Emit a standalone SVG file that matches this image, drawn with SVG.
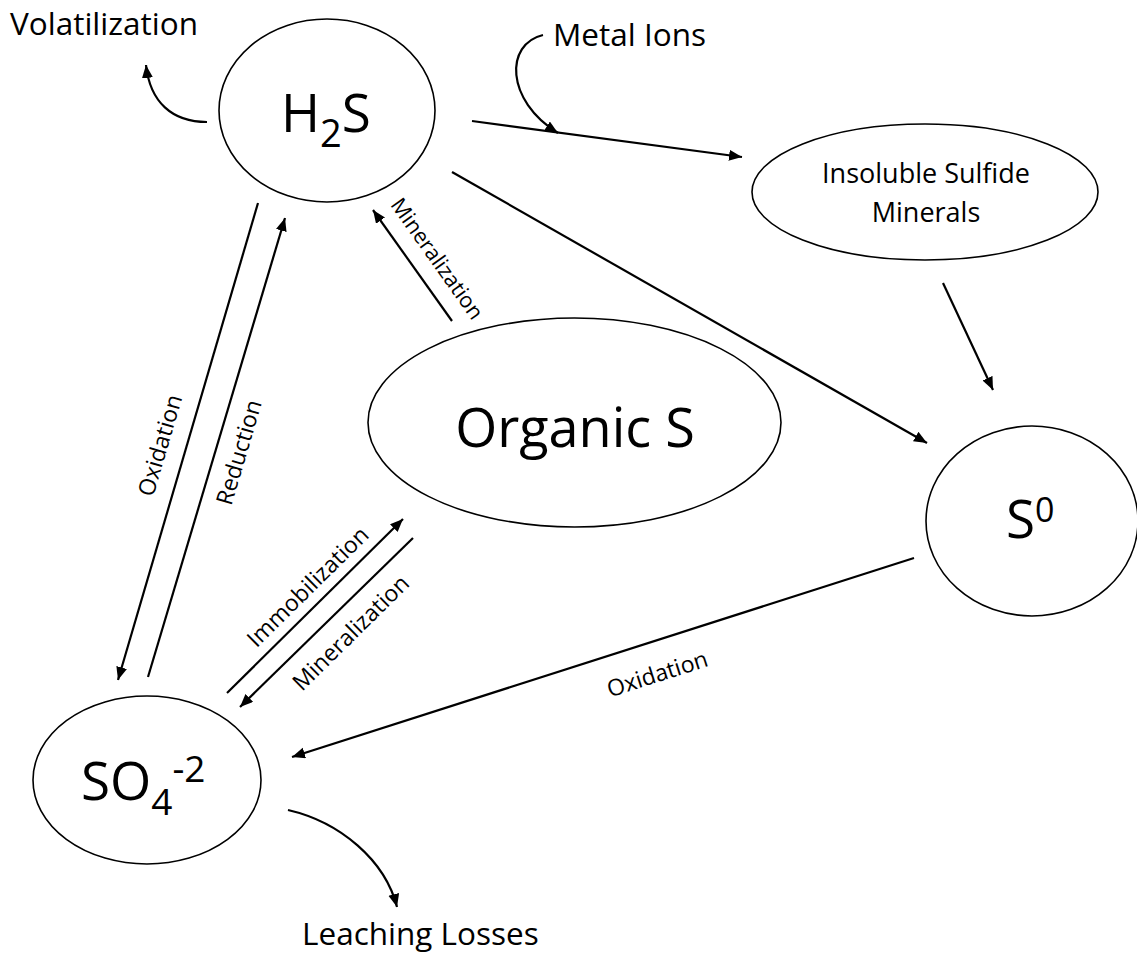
<svg xmlns="http://www.w3.org/2000/svg" width="1137" height="955" viewBox="0 0 1137 955">
<defs>
<marker id="ah" markerUnits="userSpaceOnUse" markerWidth="14" markerHeight="12" refX="13" refY="5.5" orient="auto">
<path d="M0,0 L13,5.5 L0,11 z" fill="#000"/>
</marker>
<style>
text{font-family:"Open Sans","Liberation Sans",sans-serif;fill:#000}
.node{fill:#fff;stroke:#000;stroke-width:1.6}
.edge{fill:none;stroke:#000;stroke-width:2.2;marker-end:url(#ah)}
.lbl{font-size:23px}
.lbl-sm{font-size:21.5px}
.big{font-size:31.5px}
</style>
</defs>
<rect width="1137" height="955" fill="#fff"/>
<g id="connectors">
<path class="edge" d="M207,122 C172,122 150,102 146,65"/>
<path class="edge" d="M543,35 C505,44 505,100 558,133"/>
<path class="edge" d="M472,121 L742,157"/>
<path class="edge" d="M452,172 L927,443"/>
<path class="edge" d="M943,283 L993,390"/>
<path class="edge" d="M452,321 L373,210"/>
<path class="edge" d="M258,203 L118,680"/>
<path class="edge" d="M148,677 L285,218"/>
<path class="edge" d="M227,693 L403,519"/>
<path class="edge" d="M413,538 L240,707"/>
<path class="edge" d="M914,558 L292,757"/>
<path class="edge" d="M288,810 C340,822 385,860 397,907"/>
<text class="lbl-sm" transform="translate(438,258) rotate(54.6)" text-anchor="middle" dominant-baseline="central">Mineralization</text>
<text class="lbl" transform="translate(159,445) rotate(-73.6)" text-anchor="middle" dominant-baseline="central">Oxidation</text>
<text class="lbl" transform="translate(238,452) rotate(-73.6)" text-anchor="middle" dominant-baseline="central">Reduction</text>
<text class="lbl" transform="translate(307,586) rotate(-44.6)" text-anchor="middle" dominant-baseline="central">Immobilization</text>
<text class="lbl" transform="translate(350,632) rotate(-44.6)" text-anchor="middle" dominant-baseline="central">Mineralization</text>
<text class="lbl" transform="translate(657,673) rotate(-17.6)" text-anchor="middle" dominant-baseline="central">Oxidation</text>
</g>
<g id="volatilization"><text class="big" x="10" y="35">Volatilization</text></g>
<g id="metal-ions"><text class="big" x="553" y="46">Metal Ions</text></g>
<g id="leaching-losses"><text class="big" x="302" y="945">Leaching Losses</text></g>
<g id="h2s">
<ellipse class="node" cx="327" cy="110.5" rx="108" ry="91.5"/>
<text x="281" y="132" font-size="53">H<tspan font-size="38" dy="15">2</tspan><tspan dy="-15">S</tspan></text>
</g>
<g id="insoluble-sulfide-minerals">
<ellipse class="node" cx="925" cy="192" rx="173" ry="68"/>
<text x="926" y="183" font-size="27" text-anchor="middle">Insoluble Sulfide</text>
<text x="926" y="222" font-size="27" text-anchor="middle">Minerals</text>
</g>
<g id="organic-s">
<ellipse class="node" cx="574.5" cy="422.5" rx="206.5" ry="104.5"/>
<text x="575" y="447" font-size="54" text-anchor="middle">Organic S</text>
</g>
<g id="s0">
<ellipse class="node" cx="1032" cy="521" rx="106" ry="95"/>
<text x="1006" y="538" font-size="53">S<tspan font-size="34" dy="-16">0</tspan></text>
</g>
<g id="so4">
<ellipse class="node" cx="147" cy="780" rx="114" ry="84"/>
<text x="81" y="800" font-size="53">SO<tspan font-size="37" dy="15">4</tspan><tspan font-size="37" dy="-33">-2</tspan></text>
</g>
</svg>
